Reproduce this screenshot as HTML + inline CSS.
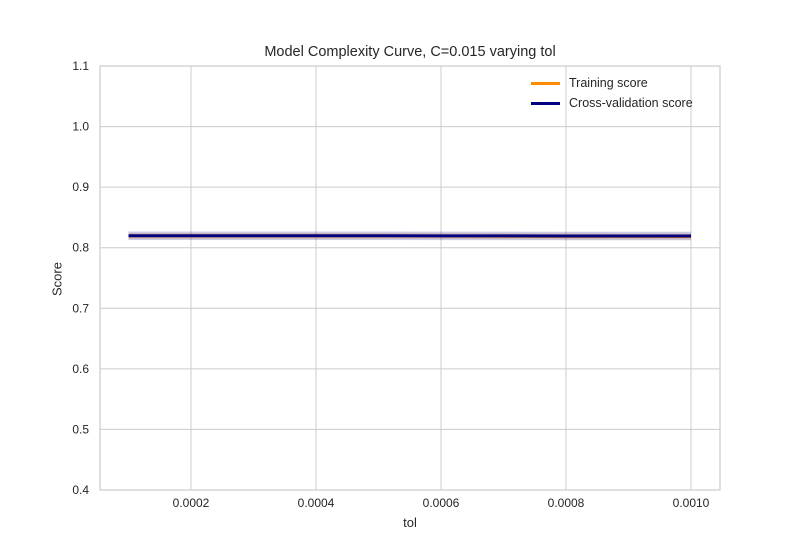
<!DOCTYPE html>
<html><head><meta charset="utf-8"><style>body{margin:0;background:#fff}svg{display:block;font-family:"Liberation Sans",sans-serif}</style></head>
<body>
<svg id="c" width="800" height="550"></svg>
<script>
const xValues=[0.0001,0.0002,0.0003,0.0004,0.0005,0.0006,0.0007,0.0008,0.0009,0.0010];
const trainScore=[0.8195,0.8195,0.8195,0.8195,0.8195,0.8193,0.8190,0.8188,0.8187,0.8186];
const trainStd=[0.005,0.005,0.005,0.005,0.005,0.005,0.005,0.005,0.005,0.005];
const cvScore=[0.8197,0.8197,0.8197,0.8197,0.8197,0.8196,0.8195,0.8194,0.8193,0.8193];
const cvStd=[0.007,0.007,0.007,0.007,0.007,0.007,0.007,0.007,0.007,0.007];
const xTicks=[0.0002,0.0004,0.0006,0.0008,0.0010];
const yTicks=[0.4,0.5,0.6,0.7,0.8,0.9,1.0,1.1];
const L=100,R=720,T=66,B=490;
const sx=v=>66+v*625000;
const sy=v=>T+(1.1-v)/0.7*(B-T);
const svg=document.getElementById('c');
const NS='http://www.w3.org/2000/svg';
function mk(t,a,p){const e=document.createElementNS(NS,t);for(const k in a)e.setAttribute(k,a[k]);(p||svg).appendChild(e);return e;}
for(const t of xTicks){
 const g=mk('line',{x1:sx(t),x2:sx(t),y1:T,y2:B,stroke:'#cccccc','stroke-width':1});
 
 
 const tx=mk('text',{x:sx(t),y:B+17,'text-anchor':'middle','font-size':12,fill:'#262626'});
 tx.textContent=t.toFixed(4);
 
 
}
for(const t of yTicks){
 const g=mk('line',{x1:L,x2:R,y1:sy(t),y2:sy(t),stroke:'#cccccc','stroke-width':1});
 
 
 const tx=mk('text',{x:L-11,y:sy(t)+4,'text-anchor':'end','font-size':12,fill:'#262626'});
 tx.textContent=t.toFixed(1);
 
 
}
function band(m,s,col,name){
 let d='M'+xValues.map((x,i)=>sx(x)+','+sy(m[i]+s[i])).join('L');
 for(let i=xValues.length-1;i>=0;i--)d+='L'+sx(xValues[i])+','+sy(m[i]-s[i]);
 const p=mk('path',{d:d+'Z',fill:col,'fill-opacity':0.2});
 
 
}
function line(m,col,name){
 const p=mk('polyline',{points:xValues.map((x,i)=>sx(x)+','+sy(m[i])).join(' '),fill:'none',stroke:col,'stroke-width':3});
 
 
}
band(trainScore,trainStd,'darkorange','training-score-band');
band(cvScore,cvStd,'navy','cv-score-band');
line(trainScore,'darkorange','training-score-line');
line(cvScore,'navy','cv-score-line');
const fr=mk('rect',{x:L,y:T,width:R-L,height:B-T,fill:'none',stroke:'#cccccc','stroke-width':1.2});


</script>
<div style="position:absolute;left:0;top:0;width:800px;height:550px;pointer-events:none;font-family:'Liberation Sans',sans-serif;color:#262626">
 <div style="position:absolute;left:0;width:820px;top:44px;text-align:center;font-size:14.5px">Model Complexity Curve, C=0.015 varying tol</div>
 <div style="position:absolute;left:0;width:820px;top:515px;text-align:center;font-size:13px">tol</div>
 <div style="position:absolute;left:57px;top:279px;font-size:13px;transform:translate(-50%,-50%) rotate(-90deg)">Score</div>
 <div style="position:absolute;left:531px;top:73px;font-size:12.5px;line-height:20px">
  <div><span style="display:inline-block;width:29px;height:3px;background:darkorange;vertical-align:middle;margin-right:9px"></span>Training score</div>
  <div><span style="display:inline-block;width:29px;height:3px;background:navy;vertical-align:middle;margin-right:9px"></span>Cross-validation score</div>
 </div>
</div>
</body></html>
